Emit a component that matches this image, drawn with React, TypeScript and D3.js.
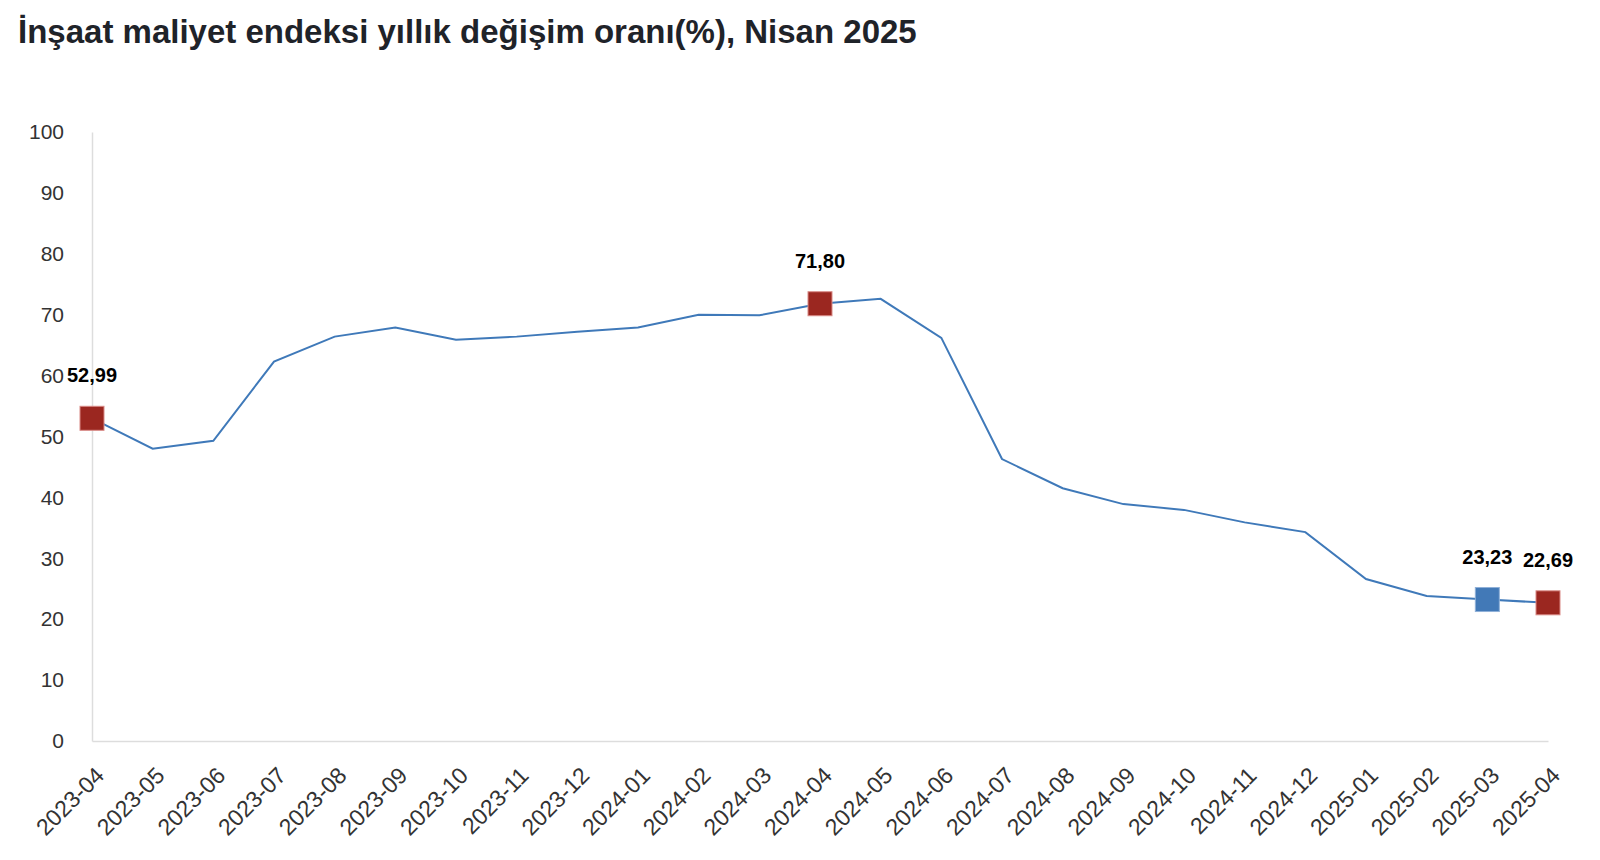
import * as d3 from "d3";
import { useEffect, useRef } from "react";

const months = [
  "2023-04", "2023-05", "2023-06", "2023-07", "2023-08", "2023-09", "2023-10",
  "2023-11", "2023-12", "2024-01", "2024-02", "2024-03", "2024-04", "2024-05",
  "2024-06", "2024-07", "2024-08", "2024-09", "2024-10", "2024-11", "2024-12",
  "2025-01", "2025-02", "2025-03", "2025-04",
];

const rates = [
  52.99, 48.0, 49.3, 62.3, 66.4, 67.9, 65.9,
  66.4, 67.2, 67.9, 70.0, 69.9, 71.8, 72.6,
  66.2, 46.3, 41.5, 38.9, 37.95, 35.9, 34.3,
  26.6, 23.8, 23.23, 22.69,
];

// highlighted points: month, label, colour
const highlights = [
  { month: "2023-04", label: "52,99", color: "#9b2720" },
  { month: "2024-04", label: "71,80", color: "#9b2720" },
  { month: "2025-03", label: "23,23", color: "#4279b7" },
  { month: "2025-04", label: "22,69", color: "#9b2720" },
];

const yTicks = [0, 10, 20, 30, 40, 50, 60, 70, 80, 90, 100];

const title = "İnşaat maliyet endeksi yıllık değişim oranı(%), Nisan 2025";

export default function App() {
  const svgRef = useRef<SVGSVGElement | null>(null);

  useEffect(() => {
    const width = 1600;
    const height = 860;
    const margin = { top: 132, right: 52, bottom: 119, left: 92 };
    const font = "'Liberation Sans', Arial, Helvetica, sans-serif";

    const svg = d3.select(svgRef.current);
    svg.selectAll("*").remove();
    svg.attr("width", width).attr("height", height);

    const x = d3
      .scalePoint()
      .domain(months)
      .range([margin.left, width - margin.right]);

    const y = d3
      .scaleLinear()
      .domain([0, 100])
      .range([height - margin.bottom, margin.top]);

    // Title
    svg
      .append("text")
      .attr("x", 18)
      .attr("y", 43)
      .attr("font-family", font)
      .attr("font-weight", "bold")
      .attr("font-size", 33)
      .attr("fill", "#1f2329")
      .text(title);

    // Y axis
    const yAxis = svg
      .append("g")
      .attr("transform", `translate(${margin.left},0)`)
      .call(d3.axisLeft(y).tickValues(yTicks).tickSize(0).tickPadding(28));
    yAxis.select(".domain").attr("stroke", "#dddddd").attr("stroke-width", 1.5);
    yAxis
      .selectAll("text")
      .attr("font-family", font)
      .attr("font-size", 21)
      .attr("fill", "#333333");

    // X axis
    const xAxis = svg
      .append("g")
      .attr("transform", `translate(0,${height - margin.bottom})`)
      .call(d3.axisBottom(x).tickSize(0).tickPadding(0));
    xAxis.select(".domain").attr("stroke", "#dddddd").attr("stroke-width", 1.5);
    xAxis
      .selectAll("text")
      .attr("font-family", font)
      .attr("font-size", 23)
      .attr("fill", "#333333")
      .attr("dy", 0)
      .attr("text-anchor", "end")
      .attr("transform", "translate(13,36) rotate(-45)");

    // Line
    const line = d3
      .line<number>()
      .x((_, i) => x(months[i])!)
      .y((d) => y(d));

    svg
      .append("path")
      .datum(rates)
      .attr("fill", "none")
      .attr("stroke", "#3f79b9")
      .attr("stroke-width", 2)
      .attr("d", line);

    // Highlight markers
    const size = 24;
    const g = svg.append("g");
    highlights.forEach((h) => {
      const i = months.indexOf(h.month);
      const cx = x(h.month)!;
      const cy = y(rates[i]);
      g.append("rect")
        .attr("x", cx - size / 2)
        .attr("y", cy - size / 2)
        .attr("width", size)
        .attr("height", size)
        .attr("fill", h.color)
        .attr("stroke", h.color === "#9b2720" ? "#d98a86" : "#8fb0d8")
        .attr("stroke-width", 1);
      g.append("text")
        .attr("x", cx)
        .attr("y", cy - 36)
        .attr("text-anchor", "middle")
        .attr("font-family", font)
        .attr("font-weight", "bold")
        .attr("font-size", 20)
        .attr("fill", "#000000")
        .text(h.label);
    });
  }, []);

  return (
    <div style={{ position: "absolute", left: 0, top: 0, background: "#fff" }}>
      <svg ref={svgRef} style={{ display: "block" }}></svg>
    </div>
  );
}
